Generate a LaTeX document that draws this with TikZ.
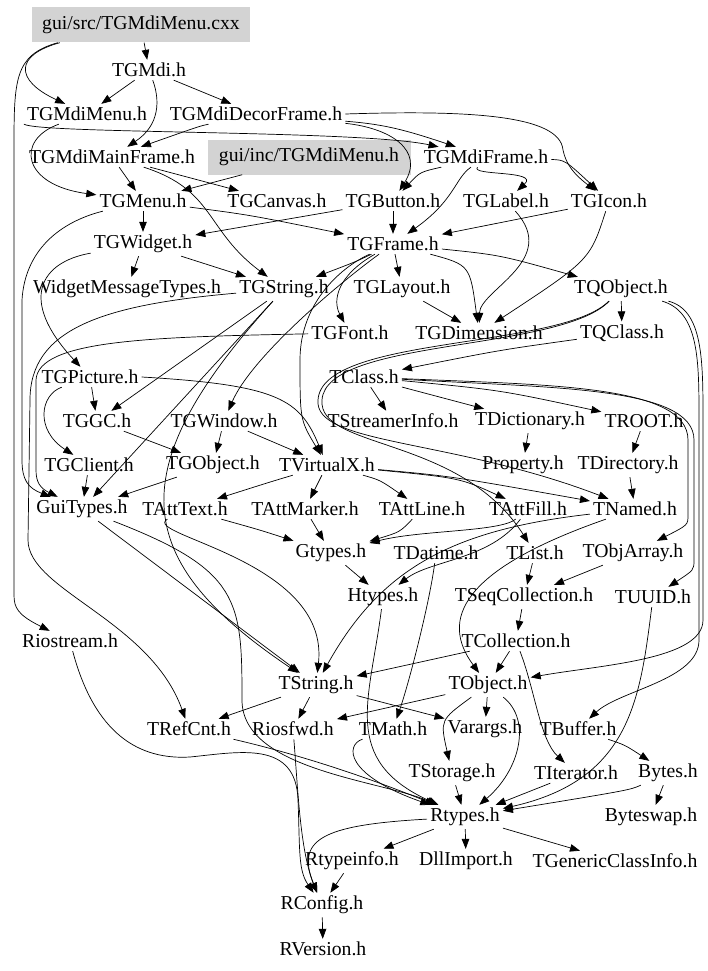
\documentclass[tikz,border=0pt]{standalone}
\usepackage{fontspec}
\setmainfont{Liberation Serif}
\usetikzlibrary{arrows.meta}
\definecolor{boxgray}{RGB}{211,211,211}
\begin{document}
\begin{tikzpicture}[x=1pt,y=-1pt,
  every node/.style={font=\fontsize{19.7}{22}\selectfont, inner sep=3pt},
  hl/.style={fill=boxgray, minimum height=35pt},
  dep/.style={draw, line width=0.7pt, -{Triangle[length=10pt,width=7.5pt]}}]
\useasboundingbox (0,0) rectangle (708,971);
% nodes
\node[hl, minimum width=218pt] (src) at (141,25) {gui/src/TGMdiMenu.cxx};
\node (mdi) at (149,70) {TGMdi.h};
\node (mdimenu) at (87,114) {TGMdiMenu.h};
\node (decor) at (256,114) {TGMdiDecorFrame.h};
\node (mainfr) at (112,157) {TGMdiMainFrame.h};
\node[hl, minimum width=203pt] (inc) at (309,157) {gui/inc/TGMdiMenu.h};
\node (mdifr) at (486,157) {TGMdiFrame.h};
\node (menu) at (143,201) {TGMenu.h};
\node (canvas) at (277,201) {TGCanvas.h};
\node (button) at (393,201) {TGButton.h};
\node (label) at (506,201) {TGLabel.h};
\node (icon) at (609,201) {TGIcon.h};
\node (widget) at (143,244) {TGWidget.h};
\node (frame) at (393,244) {TGFrame.h};
\node (wmt) at (127,289) {WidgetMessageTypes.h};
\node (gstring) at (284,289) {TGString.h};
\node (layout) at (402,289) {TGLayout.h};
\node (qobject) at (621,289) {TQObject.h};
\node (font) at (350,333) {TGFont.h};
\node (dim) at (479,333) {TGDimension.h};
\node (qclass) at (622,333) {TQClass.h};
\node (picture) at (90,377) {TGPicture.h};
\node (class) at (364,377) {TClass.h};
\node (gc) at (97,421) {TGGC.h};
\node (window) at (224,421) {TGWindow.h};
\node (streamer) at (393,421) {TStreamerInfo.h};
\node (dict) at (530,421) {TDictionary.h};
\node (root) at (644,421) {TROOT.h};
\node (client) at (89,465) {TGClient.h};
\node (gobject) at (213,465) {TGObject.h};
\node (vx) at (327,465) {TVirtualX.h};
\node (property) at (523,465) {Property.h};
\node (directory) at (628,465) {TDirectory.h};
\node (guitypes) at (82,509) {GuiTypes.h};
\node (atttext) at (185,509) {TAttText.h};
\node (attmarker) at (305,509) {TAttMarker.h};
\node (attline) at (422,509) {TAttLine.h};
\node (attfill) at (528,509) {TAttFill.h};
\node (named) at (635,509) {TNamed.h};
\node (gtypes) at (331,553) {Gtypes.h};
\node (datime) at (436,553) {TDatime.h};
\node (list) at (535,553) {TList.h};
\node (objarray) at (633,553) {TObjArray.h};
\node (htypes) at (383,597) {Htypes.h};
\node (seqcoll) at (524,597) {TSeqCollection.h};
\node (uuid) at (653,597) {TUUID.h};
\node (riostream) at (70,641) {Riostream.h};
\node (collection) at (516,641) {TCollection.h};
\node (string) at (316,685) {TString.h};
\node (object) at (488,685) {TObject.h};
\node (refcnt) at (189,729) {TRefCnt.h};
\node (riosfwd) at (293,729) {Riosfwd.h};
\node (math) at (393,729) {TMath.h};
\node (varargs) at (485,729) {Varargs.h};
\node (buffer) at (578,729) {TBuffer.h};
\node (storage) at (452,773) {TStorage.h};
\node (iterator) at (576,773) {TIterator.h};
\node (bytes) at (668,773) {Bytes.h};
\node (rtypes) at (465,817) {Rtypes.h};
\node (byteswap) at (651,817) {Byteswap.h};
\node (rtypeinfo) at (352,861) {Rtypeinfo.h};
\node (dllimport) at (466,861) {DllImport.h};
\node (generic) at (615,861) {TGenericClassInfo.h};
\node (rconfig) at (322,905) {RConfig.h};
\node (rversion) at (323,949) {RVersion.h};
% edges: top
\draw[dep] (src) -- (mdi);
\draw[dep] (src.south west) ++(28,0) .. controls (15,55) and (14,80) .. (mdimenu);
\draw[dep] (src.south west) ++(26,0) .. controls (14,55) and (14,80) .. (14,150) -- (14,595) .. controls (14,608) and (18,615) .. (riostream);
\draw[dep] (mdi) -- (mdimenu);
\draw[dep] (mdi) -- (decor);
\draw[dep] (mdi) .. controls (160,100) and (160,125) .. (mainfr);
\draw[dep] (decor) .. controls (200,126) .. (mainfr);
\draw[dep] (decor) .. controls (380,124) and (400,128) .. (mdifr);
\draw[dep] (decor) .. controls (390,128) and (425,150) .. (button);
\draw[dep] (decor.east) .. controls (470,110) and (560,115) .. (563,150) .. controls (566,165) and (575,175) .. (icon);
\draw[dep] (mdimenu) .. controls (15,140) and (22,185) .. (menu);
\draw[dep] (mdimenu.south west) .. controls (40,134) and (360,130) .. (mdifr);
\draw[dep] (inc) -- (menu);
\draw[dep] (mainfr) -- (menu);
\draw[dep] (mainfr) -- (canvas);
\draw[dep] (mainfr) .. controls (215,190) and (205,230) .. (gstring);
\draw[dep] (mdifr) .. controls (420,172) .. (button);
\draw[dep] (mdifr) .. controls (470,176) and (540,170) .. (label);
\draw[dep] (mdifr) .. controls (565,160) .. (icon);
\draw[dep] (mdifr) .. controls (455,178) and (455,200) .. (frame);
% TGMenu row
\draw[dep] (menu) -- (widget);
\draw[dep] (menu) .. controls (250,215) .. (frame);
\draw[dep] (menu) .. controls (60,222) and (25,250) .. (22,300) -- (22,460) .. controls (22,480) and (28,488) .. (guitypes);
\draw[dep] (button) -- (widget);
\draw[dep] (button) -- (frame);
\draw[dep] (icon) -- (frame);
\draw[dep] (label) .. controls (560,260) and (480,290) .. (dim);
\draw[dep] (icon) .. controls (590,260) .. (dim);
% TGFrame/TGWidget rows
\draw[dep] (widget) -- (wmt);
\draw[dep] (widget) -- (gstring);
\draw[dep] (widget) .. controls (40,262) and (18,300) .. (picture);
\draw[dep] (frame) -- (layout);
\draw[dep] (frame) .. controls (470,265) .. (dim);
\draw[dep] (frame) .. controls (500,255) .. (qobject);
\draw[dep] (frame) .. controls (355,262) .. (gstring);
\draw[dep] (frame) .. controls (338,275) and (332,300) .. (font);
\draw[dep] (frame) .. controls (330,290) and (250,360) .. (window);
\draw[dep] (frame) .. controls (345,265) and (300,300) .. (300,360) .. controls (300,420) .. (vx);
\draw[dep] (layout) -- (dim);
\draw[dep] (gstring) -- (gc);
\draw[dep] (gstring) -- (guitypes);
\draw[dep] (gstring) .. controls (100,305) and (30,330) .. (30,400) -- (28,540) .. controls (28,590) and (150,620) .. (refcnt);
\draw[dep] (gstring) .. controls (120,470) and (130,560) .. (string);
\draw[dep] (font) .. controls (150,337) and (38,340) .. (36,380) -- (36,470) .. controls (36,482) and (40,488) .. (guitypes);
\draw[dep] (qobject) -- (qclass);
\draw[dep] (qclass) .. controls (500,350) .. (class);
\draw[dep] (qobject) .. controls (703,310) and (703,360) .. (703,420) -- (703,620) .. controls (703,660) and (600,665) .. (object);
\draw[dep] (qobject) .. controls (699,312) and (699,360) .. (699,420) -- (699,640) .. controls (699,680) and (620,690) .. (buffer);
\draw[dep] (qobject) .. controls (560,350) and (322,335) .. (318,400) .. controls (314,445) and (450,438) .. (named);
\draw[dep] (qobject) .. controls (560,352) and (326,338) .. (322,400) .. controls (318,450) and (460,435) .. (list);
% TClass rows
\draw[dep] (picture) -- (gc);
\draw[dep] (picture) .. controls (40,395) and (35,430) .. (client);
\draw[dep] (picture.east) .. controls (280,385) and (300,400) .. (vx);
\draw[dep] (class) -- (streamer);
\draw[dep] (class) -- (dict);
\draw[dep] (class) .. controls (500,390) .. (root);
\draw[dep] (class) .. controls (550,385) and (688,385) .. (688,440) -- (688,515) .. controls (688,525) .. (objarray);
\draw[dep] (class) .. controls (550,388) and (694,386) .. (694,440) -- (694,560) .. controls (694,570) .. (uuid);
\draw[dep] (dict) -- (property);
\draw[dep] (root) -- (directory);
\draw[dep] (directory) -- (named);
\draw[dep] (gc) -- (gobject);
\draw[dep] (window) -- (gobject);
\draw[dep] (window) -- (vx);
\draw[dep] (client) -- (guitypes);
\draw[dep] (gobject) -- (guitypes);
\draw[dep] (vx) .. controls (270,482) .. (atttext);
\draw[dep] (vx) -- (attmarker);
\draw[dep] (vx) .. controls (380,480) .. (attline);
\draw[dep] (vx) .. controls (460,478) .. (attfill);
\draw[dep] (vx) .. controls (450,476) .. (named);
% TAtt rows
\draw[dep] (atttext) .. controls (260,530) .. (gtypes);
\draw[dep] (attmarker) -- (gtypes);
\draw[dep] (attline) .. controls (400,532) .. (gtypes);
\draw[dep] (attfill) .. controls (500,532) and (420,530) .. (gtypes);
\draw[dep] (atttext) .. controls (140,535) and (330,560) .. (string);
\draw[dep] (gtypes) -- (htypes);
\draw[dep] (attfill) .. controls (490,560) and (430,560) .. (htypes);
\draw[dep] (named) .. controls (450,530) and (380,570) .. (string);
\draw[dep] (named) .. controls (460,570) and (440,620) .. (object);
\draw[dep] (list) -- (seqcoll);
\draw[dep] (objarray) -- (seqcoll);
\draw[dep] (seqcoll) -- (collection);
\draw[dep] (collection) -- (object);
\draw[dep] (collection) -- (string);
\draw[dep] (collection) .. controls (535,690) and (540,740) .. (iterator);
\draw[dep] (datime) .. controls (430,600) and (410,680) .. (math);
\draw[dep] (htypes) .. controls (370,700) and (340,760) .. (rtypes);
\draw[dep] (guitypes) -- (string);
\draw[dep] (guitypes) .. controls (240,570) and (242,600) .. (242,700) .. controls (242,770) and (380,780) .. (rtypes);
% bottom
\draw[dep] (string) -- (refcnt);
\draw[dep] (string) -- (riosfwd);
\draw[dep] (string) -- (varargs);
\draw[dep] (object) -- (riosfwd);
\draw[dep] (object) -- (varargs);
\draw[dep] (object) .. controls (440,720) .. (storage);
\draw[dep] (object) .. controls (532,720) and (520,770) .. (rtypes);
\draw[dep] (math) .. controls (345,745) and (345,775) .. (rtypes);
\draw[dep] (riosfwd) .. controls (298,790) and (300,850) .. (rconfig);
\draw[dep] (refcnt) .. controls (280,750) and (350,770) .. (rtypes);
\draw[dep] (riostream) .. controls (95,735) and (140,760) .. (190,757) .. controls (240,752) and (296,740) .. (298,800) .. controls (300,850) and (298,870) .. (rconfig);
\draw[dep] (buffer) .. controls (625,745) .. (bytes);
\draw[dep] (storage) -- (rtypes);
\draw[dep] (iterator) -- (rtypes);
\draw[dep] (bytes) .. controls (630,790) .. (rtypes);
\draw[dep] (uuid) .. controls (640,700) and (630,780) .. (rtypes);
\draw[dep] (bytes) -- (byteswap);
\draw[dep] (rtypes) -- (rtypeinfo);
\draw[dep] (rtypes) -- (dllimport);
\draw[dep] (rtypes) -- (generic);
\draw[dep] (rtypes) .. controls (320,825) and (296,840) .. (rconfig);
\draw[dep] (rtypeinfo) -- (rconfig);
\draw[dep] (rconfig) -- (rversion);
\end{tikzpicture}
\end{document}
